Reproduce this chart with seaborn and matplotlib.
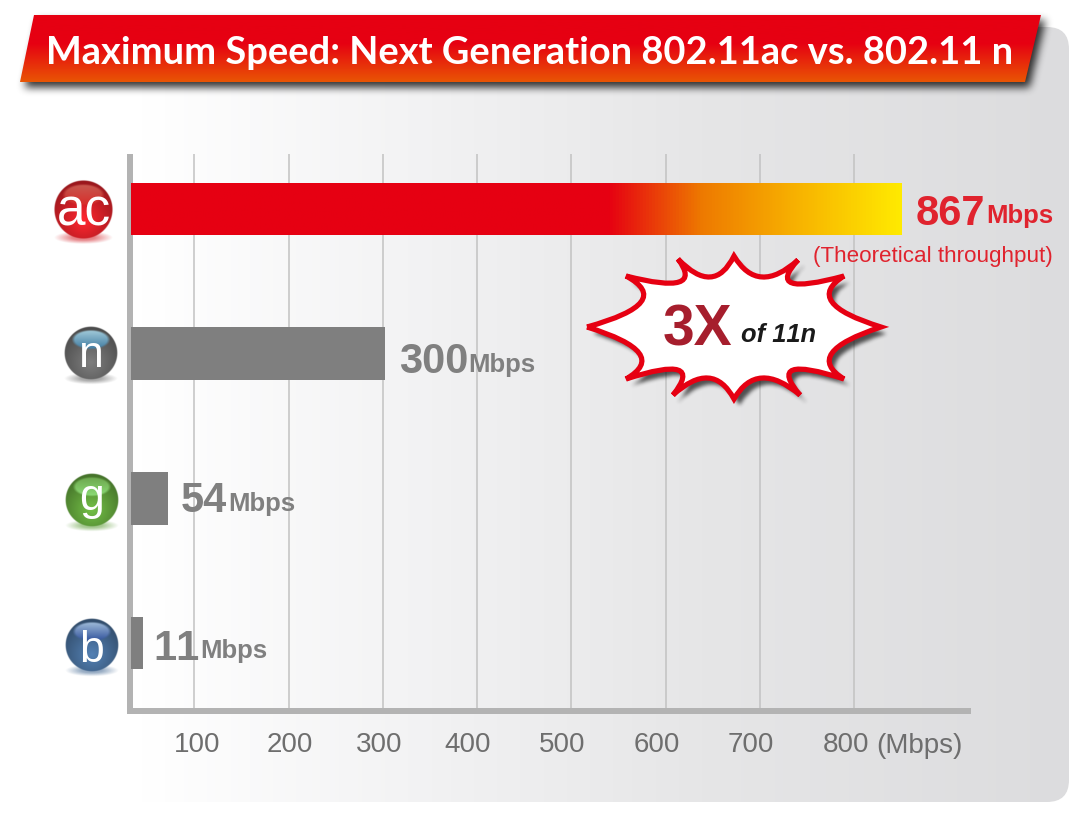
import numpy as np
import pandas as pd
import matplotlib
matplotlib.use("Agg")
import matplotlib.pyplot as plt
import seaborn as sns
from matplotlib.colors import LinearSegmentedColormap, to_rgb
from matplotlib.patches import PathPatch, Polygon, FancyBboxPatch
from matplotlib.path import Path
from matplotlib.transforms import ScaledTranslation

W, H = 1087, 818

standards = ["ac", "n", "g", "b"]
bar_lengths = [851, 302, 72, 45]  # how far the bars reach on the printed axis
speed_labels = ["867", "300", "54", "11"]
axis_ticks = [100, 200, 300, 400, 500, 600, 700, 800]
bar_colors = ["#e60012", "#7f7f7f", "#7f7f7f", "#7f7f7f"]
label_colors = ["#e0232e", "#808080", "#808080", "#808080"]
title = "Maximum Speed: Next Generation 802.11ac vs. 802.11 n"


def px(n):
    return n * 72 / 100


def blur(img, size):
    kernel = np.ones(size) / size
    for _ in range(3):
        img = np.apply_along_axis(lambda r: np.convolve(r, kernel, mode="same"), 0, img)
        img = np.apply_along_axis(lambda r: np.convolve(r, kernel, mode="same"), 1, img)
    return img


def soft_shadow(axis, path, dx, dy, size, strength, pad=40):
    # blurred copy of a shape, only on the small window around it
    box = path.get_extents()
    x0, x1 = int(box.x0 + dx - pad), int(box.x1 + dx + pad)
    y0, y1 = int(box.y0 + dy - pad), int(box.y1 + dy + pad)
    xx, yy = np.meshgrid(np.arange(x0, x1) + 0.5, np.arange(y0, y1) + 0.5)
    pts = np.c_[xx.ravel() - dx, yy.ravel() - dy]
    mask = path.contains_points(pts).reshape(xx.shape).astype(float)
    alpha = blur(mask, size) * strength
    rgba = np.zeros(mask.shape + (4,))
    rgba[..., 3] = alpha
    axis.imshow(rgba, extent=(x0, x1, y1, y0), aspect="auto", zorder=2, interpolation="bilinear")


def draw_ball(axis, cx, cy, r, base, cap_top, cap_bottom, letter, size, baseline, cap_alpha=0.95):
    n = int(r * 8)
    lin = np.linspace(-1.3, 1.3, n)
    u, v = np.meshgrid(lin, lin)
    d = np.sqrt(u ** 2 + v ** 2)
    base = np.array(to_rgb(base))

    # soft coloured shadow under the ball
    sh = np.clip(1 - np.sqrt((u / 1.0) ** 2 + ((v - 0.95) / 0.22) ** 2), 0, 1)
    rgba_sh = np.zeros((n, n, 4))
    rgba_sh[..., :3] = base
    rgba_sh[..., 3] = np.clip(sh * 0.9, 0, 0.55)
    ext = (cx - 1.3 * r, cx + 1.3 * r, cy + 1.3 * r, cy - 1.3 * r)
    axis.imshow(rgba_sh, extent=ext, aspect="auto", zorder=4)

    # brighter low in the ball, darker towards the rim
    glow = np.clip(1 - np.sqrt(u ** 2 + (v - 0.35) ** 2) / 1.3, 0, 1)
    shade = 0.72 + 0.5 * glow
    rgb = base[None, None, :] * shade[..., None]
    # highlight cap, fairly crisp edge
    e = np.sqrt((u / 0.72) ** 2 + ((v + 0.5) / 0.37) ** 2)
    cap = np.clip((1 - e) * 6, 0, 1) * cap_alpha
    t = np.clip((v + 0.87) / 0.74, 0, 1)[..., None]
    cap_rgb = np.array(to_rgb(cap_top)) * (1 - t) + np.array(to_rgb(cap_bottom)) * t
    rgb = rgb + (cap_rgb - rgb) * cap[..., None]
    rgba = np.dstack([np.clip(rgb, 0, 1), np.clip((1 - d) * r, 0, 1)])
    axis.imshow(rgba, extent=ext, aspect="auto", zorder=5)
    axis.text(cx, baseline, letter, color="white", fontsize=size, family="Liberation Sans",
              ha="center", va="baseline", zorder=6)


def star_path(tips, valleys):
    verts = [tips[0]]
    codes = [Path.MOVETO]
    for i, valley in enumerate(valleys):
        a = np.array(tips[i])
        b = np.array(tips[(i + 1) % len(tips)])
        ctrl = 2 * np.array(valley) - 0.5 * (a + b)
        verts += [tuple(ctrl), tuple(b)]
        codes += [Path.CURVE3, Path.CURVE3]
    return Path(verts, codes)


sns.set_theme(style="white")
plt.rcParams["font.family"] = ["Liberation Sans", "DejaVu Sans"]
plt.rcParams["text.kerning_factor"] = 6  # the "11" should not close up

fig = plt.figure(figsize=(W / 100, H / 100), dpi=100, facecolor="white")

# grey panel behind everything
ax_bg = fig.add_axes([0, 0, 1, 1], zorder=0)
ax_bg.axis("off")
panel = FancyBboxPatch((80, 27), 989, 775, boxstyle="round,pad=0,rounding_size=22",
                       facecolor="none", edgecolor="none", transform=ax_bg.transData)
ax_bg.add_patch(panel)
panel_cmap = LinearSegmentedColormap.from_list(
    "panel", [(0, "#ffffff"), (0.06, "#ffffff"), (0.33, "#f3f3f4"), (0.63, "#e6e6e7"), (1, "#dcdcde")])
panel_im = ax_bg.imshow(np.linspace(0, 1, 256)[None, :], extent=(80, 1069, 802, 27), cmap=panel_cmap,
                        aspect="auto")
panel_im.set_clip_path(panel)
ax_bg.set_xlim(0, W)
ax_bg.set_ylim(H, 0)

# the chart itself
ax = fig.add_axes([131 / W, (H - 711) / H, (971 - 131) / W, (711 - 154) / H], zorder=1)
ax.patch.set_alpha(0)
df = pd.DataFrame({"standard": standards, "length": bar_lengths})
sns.barplot(data=df, x="length", y="standard", hue="standard", palette=bar_colors, legend=False,
            width=0.366, saturation=1, linewidth=0, ax=ax, zorder=3)
ax.set_xlim(32.6, 924.3)
ax.set_ylim(3.47, -0.38)
ax.set_xlabel("")
ax.set_ylabel("")
ax.set_xticks(axis_ticks)
ax.set_xticklabels([str(t) for t in axis_ticks])
ax.tick_params(axis="x", length=0, pad=15, labelsize=20, labelcolor="#6e6e6e")
ax.tick_params(axis="y", left=False, labelleft=False)
ax.grid(axis="x", color="#c2c2c2", linewidth=1.1)
ax.grid(axis="y", visible=False)
ax.set_axisbelow(True)
for side in ["top", "right"]:
    ax.spines[side].set_visible(False)
for side in ["left", "bottom"]:
    ax.spines[side].set_color("#b3b3b3")
    ax.spines[side].set_linewidth(px(6))
    ax.spines[side].set_capstyle("butt")
ax.spines["left"].set_position(("outward", px(1.3)))
ax.spines["left"].set_bounds(3.49, -0.38)

# printed tick labels sit a bit off their grid lines
tick_nudge = [2.5, 1.5, -4, -9.5, -9.5, -8.5, -8.5, -7.5]
for lab, dx in zip(ax.get_xticklabels(), tick_nudge):
    lab.set_transform(lab.get_transform() + ScaledTranslation(px(dx) / 72, 0, fig.dpi_scale_trans))

# gradient on the ac bar
bar = ax.patches[0]
grad_cmap = LinearSegmentedColormap.from_list(
    "ac", [(0, "#e60012"), (0.62, "#e60012"), (0.742, "#ee7a00"), (0.872, "#f8b500"), (1, "#ffea00")])
grad = ax.imshow(np.linspace(0, 1, 512)[None, :], cmap=grad_cmap, aspect="auto", zorder=3.1,
                 extent=(32.6, bar_lengths[0], bar.get_y() + bar.get_height(), bar.get_y()))
grad.set_clip_path(bar)
ax.set_xlim(32.6, 924.3)
ax.set_ylim(3.47, -0.38)

# speed labels, baseline is below the bar centre
label_gap = [14, 14, 13, 11]
label_drop = [16, 19.5, 14, 16.5]
for i, (length, text, col) in enumerate(zip(bar_lengths, speed_labels, label_colors)):
    num = ax.annotate(text, xy=(length, i), xytext=(px(label_gap[i]), -px(label_drop[i])),
                      textcoords="offset points", color=col, fontsize=30, fontweight="bold",
                      ha="left", va="baseline", zorder=7)
    ax.annotate("Mbps", xy=(1, i), xycoords=(num, "data"), xytext=(px(0.5), -px(label_drop[i] - 1.5)),
                textcoords="offset points", color=col, fontsize=18.5, fontweight="bold",
                ha="left", va="baseline", zorder=7)

# everything on top, in picture coordinates
ax_top = fig.add_axes([0, 0, 1, 1], zorder=2)
ax_top.patch.set_alpha(0)
ax_top.axis("off")

ax_top.text(1053, 262, "(Theoretical throughput)", color="#e0232e", fontsize=16.1, ha="right", va="baseline")
ax_top.text(876, 753, "(Mbps)", color="#6e6e6e", fontsize=20, ha="left", va="baseline")

# title banner
banner_xy = [(34, 15), (1041, 15), (1025, 82), (20, 82)]
banner_path = Path(banner_xy + [banner_xy[0]], closed=True)
soft_shadow(ax_top, banner_path, 3, 4, 8, 0.8, pad=30)
banner_cmap = LinearSegmentedColormap.from_list("banner", [(0, "#e60012"), (0.42, "#e60012"), (1, "#e95504")])
banner_im = ax_top.imshow(np.linspace(0, 1, 128)[:, None], extent=(20, 1041, 82, 15), cmap=banner_cmap,
                          aspect="auto", zorder=3)
banner_patch = Polygon(banner_xy, closed=True, facecolor="none", edgecolor="none", transform=ax_top.transData)
ax_top.add_patch(banner_patch)
banner_im.set_clip_path(banner_patch)
ax_top.text(530, 64, title, color="white", fontsize=27.4, fontweight="bold", family="Lato",
            ha="center", va="baseline", zorder=4)

# 3X starburst, tips pulled in a little because the miter joins stick out
tips = [(587, 327), (626, 276), (678, 259), (734, 256), (798, 260), (844, 276),
        (881, 327), (844, 379), (800, 395), (734, 399), (673, 395), (626, 379)]
valleys = [(641, 302), (679, 282), (710, 277), (762, 277), (792, 283), (832, 302),
           (832, 353), (793, 370), (762, 378), (708, 378), (678, 370), (639, 353)]
burst = star_path(tips, valleys)
soft_shadow(ax_top, burst, 4, 5, 4, 0.65, pad=20)
ax_top.add_patch(PathPatch(burst, facecolor="white", edgecolor="#e60012", linewidth=px(5.2),
                           joinstyle="miter", zorder=3))
ax_top.text(663, 346, "3X", color="#a61e2d", fontsize=41, fontweight="bold", ha="left", va="baseline", zorder=4)
ax_top.text(741, 342, "of 11n", color="#1a1a1a", fontsize=18.4, fontweight="bold", style="italic",
            ha="left", va="baseline", zorder=4)

# round badges next to the bars
draw_ball(ax_top, 83.7, 209.5, 29.5, "#d32027", "#e8907a", "#d8352b", standards[0], 37, 225, cap_alpha=0.55)
draw_ball(ax_top, 91, 353, 26.7, "#686868", "#a9d3e2", "#3a7aa3", standards[1], 32, 366.7)
draw_ball(ax_top, 91.3, 500, 26.7, "#5f9e3a", "#6ea84f", "#8fe07a", standards[2], 32, 510)
draw_ball(ax_top, 91.3, 645.7, 26.7, "#456a94", "#a8c4e0", "#2c4d9a", standards[3], 32, 661.7)

ax_top.set_xlim(0, W)
ax_top.set_ylim(H, 0)

fig.savefig("out.png", dpi=100)
